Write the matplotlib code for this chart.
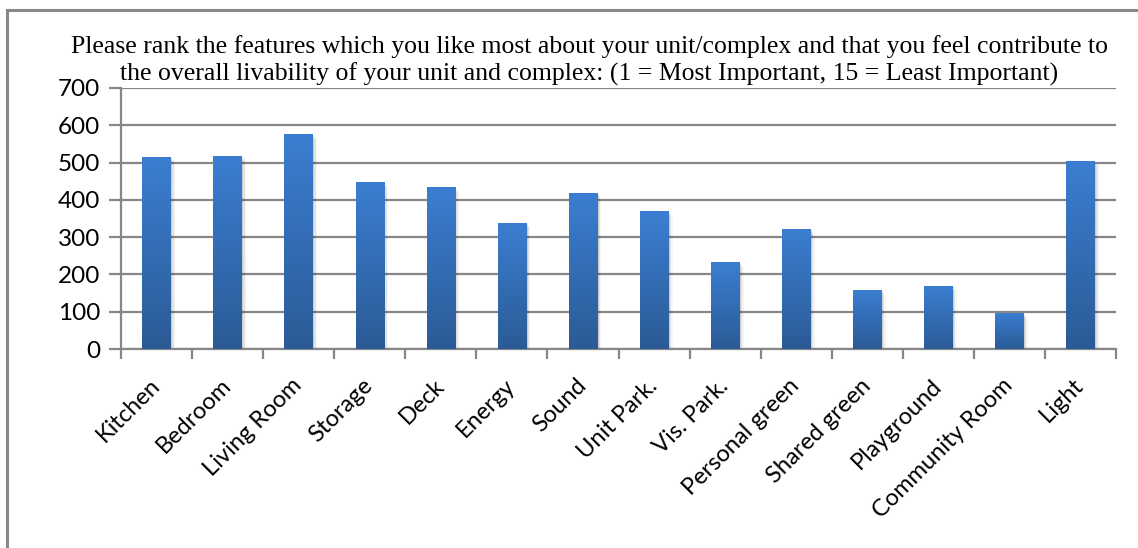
import matplotlib
matplotlib.use("Agg")
import matplotlib.pyplot as plt
import numpy as np
from matplotlib.patches import Rectangle

categories = ["Kitchen", "Bedroom", "Living Room", "Storage", "Deck", "Energy", "Sound",
              "Unit Park.", "Vis. Park.", "Personal green", "Shared green", "Playground",
              "Community Room", "Light"]
values = [515, 518, 576, 447, 434, 338, 418, 370, 233, 322, 158, 169, 96, 505]
yticks = [0, 100, 200, 300, 400, 500, 600, 700]
title_lines = ["Please rank the features which you like most about your unit/complex and that you feel contribute to",
               "the overall livability of your unit and complex: (1 = Most Important, 15 = Least Important)"]

grid_col = "#878787"
top_col = np.array([0x3b, 0x7e, 0xd1]) / 255
bot_col = np.array([0x2b, 0x5b, 0x96]) / 255

fig = plt.figure(figsize=(11.38, 5.48), dpi=100)
# outer chart frame
fig.patches.append(Rectangle((7 / 1138, -0.1), 1.2, (548 - 10) / 548 + 0.1,
                             transform=fig.transFigure, fill=False,
                             edgecolor="#888888", linewidth=2.2))

ax = fig.add_axes([121 / 1138, 1 - 349 / 548, 995 / 1138, 261 / 548])

# gradient image for bars
grad = np.linspace(0, 1, 256)[:, None]
img = bot_col[None, None, :] * (1 - grad[..., None]) + top_col[None, None, :] * grad[..., None]

width = 0.4
for i, v in enumerate(values):
    x0 = i + 0.5 - width / 2
    # soft shadow
    for k, a in enumerate([0.10, 0.07, 0.04]):
        off = 0.02 * (k + 1)
        ax.add_patch(Rectangle((x0 + off, -5), width, v + 5 - 4 * (k + 1),
                               facecolor="black", alpha=a, edgecolor="none", zorder=2))
    bar = Rectangle((x0, 0), width, v, facecolor="none", edgecolor="none", zorder=3)
    ax.add_patch(bar)
    im = ax.imshow(img, extent=(x0, x0 + width, 0, v), origin="lower",
                   aspect="auto", zorder=3, interpolation="bilinear")
    im.set_clip_path(bar)

ax.set_xlim(0, len(categories))
ax.set_ylim(0, 700)

ax.set_yticks(yticks)
ax.set_yticklabels([str(t) for t in yticks], fontsize=17.5, family="Lato")
ax.yaxis.grid(True, color=grid_col, linewidth=1.6, zorder=1)
ax.set_axisbelow(True)

ax.set_xticks(np.arange(len(categories) + 1))
ax.set_xticklabels([])
ax.set_xticks(np.arange(len(categories)) + 0.5, minor=True)
ax.set_xticklabels(categories, minor=True, rotation=45, ha="right", va="center",
                   rotation_mode="anchor", fontsize=17, family="Lato")
ax.tick_params(axis="x", which="minor", length=0, pad=24)
ax.tick_params(axis="x", which="major", length=7, width=1.6, color=grid_col)
ax.tick_params(axis="y", length=9, width=1.6, color=grid_col, pad=6)

for s in ["top", "right"]:
    ax.spines[s].set_visible(False)
for s in ["left", "bottom"]:
    ax.spines[s].set_color(grid_col)
    ax.spines[s].set_linewidth(1.6)

# two-line title, one text per line
for line, base in zip(title_lines, [53, 81]):
    fig.text(0.518, 1 - base / 548, line, ha="center", va="baseline", fontsize=18.5,
             family="Liberation Serif")

fig.savefig("out.png", dpi=100)
